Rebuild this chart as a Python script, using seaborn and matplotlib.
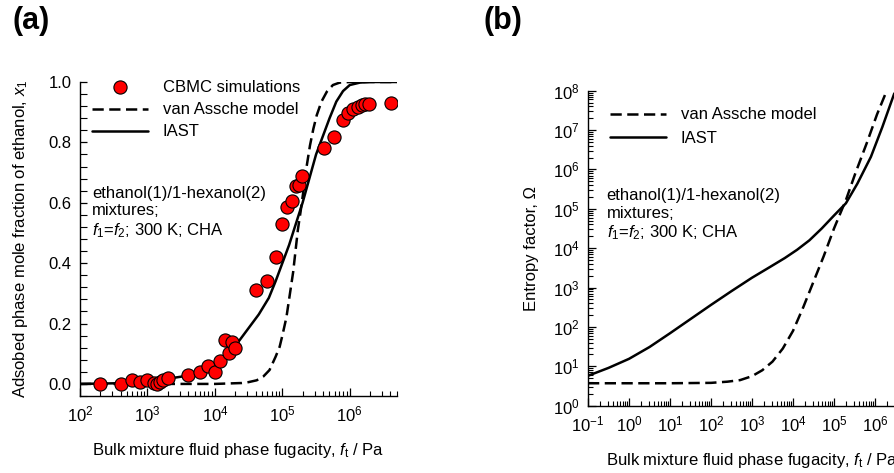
import numpy as np
import pandas as pd
import matplotlib
matplotlib.use("Agg")
import matplotlib.pyplot as plt
import matplotlib.ticker as mticker
from matplotlib.lines import Line2D
import seaborn as sns

# ---------------- data: panel (a) ----------------
cbmc_f = [200, 400, 600, 780, 1000, 1230, 1380, 1510, 1700, 2040,
          4000, 6000, 7800, 10000, 12000, 14000, 16000, 18000, 20000,
          40000, 60000, 80000,
          1.0e5, 1.17e5, 1.38e5, 1.58e5, 1.78e5, 1.95e5,
          4.1e5, 5.9e5, 7.9e5, 9.5e5, 1.12e6, 1.32e6, 1.51e6, 1.66e6, 1.95e6, 4.1e6]
cbmc_x1 = [0.0, 0.0, 0.014, 0.007, 0.012, 0.003, 0.0, 0.007, 0.012, 0.018,
           0.028, 0.038, 0.059, 0.040, 0.077, 0.146, 0.103, 0.138, 0.118,
           0.312, 0.340, 0.420,
           0.530, 0.587, 0.607, 0.657, 0.659, 0.690,
           0.780, 0.818, 0.873, 0.898, 0.910, 0.918, 0.923, 0.926, 0.927, 0.930]

iast_a_logf = [2.0, 2.5, 3.0, 3.5, 3.75, 4.0, 4.25, 4.5, 4.65, 4.8, 4.9, 5.0, 5.1, 5.2,
               5.3, 5.4, 5.5, 5.6, 5.7, 5.8, 5.9, 6.0, 6.15, 6.3, 6.7]
iast_a_x1 = [0.0, 0.002, 0.007, 0.024, 0.038, 0.059, 0.11, 0.185, 0.23, 0.285, 0.34, 0.40,
             0.46, 0.53, 0.60, 0.68, 0.76, 0.82, 0.88, 0.935, 0.97, 0.99, 0.998, 1.0, 1.0]

vanassche_a_logf = [2.0, 3.0, 4.0, 4.4, 4.5, 4.62, 4.72, 4.81, 4.9, 4.96, 5.0, 5.06, 5.1,
                    5.16, 5.2, 5.23, 5.27, 5.31, 5.36, 5.41, 5.46, 5.51, 5.58, 5.66,
                    5.75, 5.85, 6.0, 6.7]
vanassche_a_x1 = [0.0, 0.0, 0.0, 0.003, 0.006, 0.012, 0.025, 0.046, 0.09, 0.123, 0.16, 0.22,
                  0.28, 0.37, 0.45, 0.51, 0.57, 0.635, 0.72, 0.79, 0.845, 0.89, 0.935, 0.968,
                  0.99, 0.998, 1.0, 1.0]

# ---------------- data: panel (b) ----------------
iast_b_logf = [-1.0, -0.5, 0.0, 0.5, 1.0, 1.5, 2.0, 2.5, 3.0, 3.45, 3.8, 4.1, 4.4, 4.7,
               5.0, 5.29, 5.57, 5.9, 6.18, 6.47]
iast_b_logomega = [0.76, 0.96, 1.19, 1.49, 1.84, 2.2, 2.56, 2.91, 3.25, 3.53, 3.75, 3.96,
                   4.2, 4.5, 4.83, 5.14, 5.64, 6.32, 7.08, 7.93]

vanassche_b_logf = [-1.0, 0.0, 1.0, 2.0, 2.4, 2.71, 3.0, 3.25, 3.5, 3.75, 4.0, 4.25,
                    4.5, 4.75, 5.0, 5.3, 5.52, 5.81, 6.05, 6.29]
vanassche_b_logomega = [0.57, 0.57, 0.57, 0.58, 0.61, 0.65, 0.75, 0.9, 1.12, 1.45, 1.9, 2.5,
                        3.15, 3.8, 4.5, 5.25, 5.9, 6.7, 7.4, 8.01]

# ---------------- style ----------------
sns.set_style("ticks")
plt.rcParams['font.family'] = ['Liberation Sans', 'DejaVu Sans']
plt.rcParams['mathtext.fontset'] = 'custom'
plt.rcParams['mathtext.rm'] = 'Liberation Sans'
plt.rcParams['mathtext.it'] = 'Liberation Sans:italic'
plt.rcParams['mathtext.default'] = 'regular'
plt.rcParams['axes.unicode_minus'] = False
plt.rcParams['text.color'] = 'black'
plt.rcParams['axes.labelcolor'] = 'black'
plt.rcParams['xtick.color'] = 'black'
plt.rcParams['ytick.color'] = 'black'
FS = 12

fig = plt.figure(figsize=(8.94, 4.73), dpi=100)
W, H = 894.0, 473.0
ax1 = fig.add_axes([80 / W, 1 - 396 / H, 317 / W, 314 / H])
ax2 = fig.add_axes([588 / W, 1 - 405.7 / H, 328 / W, 315 / H])

LW = 1.8
DASH = (4.5, 2.2)

# ---- panel (a) ----
df_pts = pd.DataFrame({"f": cbmc_f, "x1": cbmc_x1})
df_iast_a = pd.DataFrame({"f": np.power(10.0, iast_a_logf), "x1": iast_a_x1})
df_va_a = pd.DataFrame({"f": np.power(10.0, vanassche_a_logf), "x1": vanassche_a_x1})

ax1.set_xscale("log")
sns.lineplot(data=df_va_a, x="f", y="x1", ax=ax1, color="black", lw=LW,
             sort=False, estimator=None)
ax1.lines[-1].set_dashes(DASH)
sns.lineplot(data=df_iast_a, x="f", y="x1", ax=ax1, color="black", lw=LW,
             sort=False, estimator=None)
sns.scatterplot(data=df_pts, x="f", y="x1", ax=ax1, color="#ff0000", s=90,
                edgecolor="black", linewidth=0.8, zorder=5)

ax1.set_xlim(1e2, 10 ** 6.7)
ax1.set_ylim(-0.04, 1.0)
ax1.yaxis.set_major_locator(mticker.MultipleLocator(0.2))
ax1.yaxis.set_minor_locator(mticker.MultipleLocator(0.04))
ax1.yaxis.set_major_formatter(mticker.FormatStrFormatter("%.1f"))
ax1.xaxis.set_major_locator(mticker.LogLocator(base=10, numticks=20))
ax1.xaxis.set_minor_locator(mticker.LogLocator(base=10, subs=np.arange(2, 10), numticks=20))
ax1.xaxis.set_minor_formatter(mticker.NullFormatter())
ax1.set_xlabel("Bulk mixture fluid phase fugacity, $\\mathit{f}_{\\mathrm{t}}$ / Pa",
               fontsize=FS, labelpad=12)
ax1.set_ylabel("Adsobed phase mole fraction of ethanol, $\\mathit{x}_1$", fontsize=FS, labelpad=13)

h_pts = Line2D([], [], marker="o", ls="none", markerfacecolor="#ff0000",
               markeredgecolor="black", markersize=9.5, markeredgewidth=0.8)
h_va = Line2D([], [], color="black", lw=LW, dashes=DASH)
h_ia = Line2D([], [], color="black", lw=LW)
ax1.legend([h_pts, h_va, h_ia], ["CBMC simulations", "van Assche model", "IAST"],
           loc="upper left", bbox_to_anchor=(0.038, 1.005), frameon=False,
           handlelength=3.35, handletextpad=0.9, labelspacing=0.42,
           borderaxespad=0, borderpad=0, fontsize=FS)
ax1.text(0.038, 0.668, "ethanol(1)/1-hexanol(2)\nmixtures;\n$\\mathit{f}_1$=$\\mathit{f}_2$; 300 K; CHA",
         transform=ax1.transAxes, ha="left", va="top", fontsize=FS, linespacing=1.18)

# ---- panel (b) ----
df_iast_b = pd.DataFrame({"f": np.power(10.0, iast_b_logf), "om": np.power(10.0, iast_b_logomega)})
df_va_b = pd.DataFrame({"f": np.power(10.0, vanassche_b_logf), "om": np.power(10.0, vanassche_b_logomega)})

ax2.set_xscale("log")
ax2.set_yscale("log")
sns.lineplot(data=df_va_b, x="f", y="om", ax=ax2, color="black", lw=LW,
             sort=False, estimator=None)
ax2.lines[-1].set_dashes(DASH)
sns.lineplot(data=df_iast_b, x="f", y="om", ax=ax2, color="black", lw=LW,
             sort=False, estimator=None)
ax2.set_xlim(1e-1, 1e7)
ax2.set_ylim(1e0, 1e8)
for axis in (ax2.xaxis, ax2.yaxis):
    axis.set_major_locator(mticker.LogLocator(base=10, numticks=20))
    axis.set_minor_locator(mticker.LogLocator(base=10, subs=np.arange(2, 10), numticks=20))
    axis.set_minor_formatter(mticker.NullFormatter())
ax2.set_xlabel("Bulk mixture fluid phase fugacity, $\\mathit{f}_{\\mathrm{t}}$ / Pa",
               fontsize=FS, labelpad=12)
ax2.set_ylabel("Entropy factor, Ω", fontsize=FS, labelpad=10)
ax2.legend([h_va, h_ia], ["van Assche model", "IAST"],
           loc="upper left", bbox_to_anchor=(0.067, 0.947), frameon=False,
           handlelength=3.35, handletextpad=0.9, labelspacing=0.5,
           borderaxespad=0, borderpad=0, fontsize=FS)
ax2.text(0.057, 0.69, "ethanol(1)/1-hexanol(2)\nmixtures;\n$\\mathit{f}_1$=$\\mathit{f}_2$; 300 K; CHA",
         transform=ax2.transAxes, ha="left", va="top", fontsize=FS, linespacing=1.18)

for ax in (ax1, ax2):
    sns.despine(ax=ax)
    ax.tick_params(which="major", direction="in", length=6, width=0.9, labelsize=FS, pad=6)
    ax.tick_params(which="minor", direction="in", length=3.5, width=0.8)
    for s in ("left", "bottom"):
        ax.spines[s].set_linewidth(1.0)
        ax.spines[s].set_color("black")
ax1.tick_params(axis="y", which="minor", length=5)
ax1.tick_params(axis="y", which="major", length=5)

fig.text(12 / W, 1 - 21 / H, "(a)", fontsize=22, fontweight="bold", va="center", ha="left")
fig.text(483 / W, 1 - 21 / H, "(b)", fontsize=22, fontweight="bold", va="center", ha="left")

fig.savefig("out.png", dpi=100)
